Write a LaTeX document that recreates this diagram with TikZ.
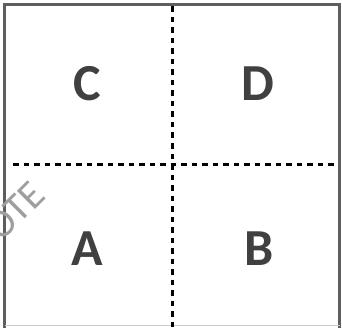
\documentclass[tikz,border=0pt]{standalone}
\usepackage{fontspec}
\setmainfont{Carlito}
\usepackage{tikz}
\usetikzlibrary{positioning}
\definecolor{lettergray}{HTML}{404040}
\definecolor{framegray}{HTML}{5E5E5E}

\begin{document}
\begin{tikzpicture}[x=1pt,y=1pt,
    frame/.style={draw=framegray,line width=3.3pt},
    quad/.style={line width=3pt,dash pattern=on 5.5pt off 5pt},
    letter/.style={font=\fontsize{52}{52}\selectfont\bfseries,text=lettergray,inner sep=0pt},
    wmark/.style={font=\fontsize{40}{40}\selectfont,text=black!38,rotate=45,inner sep=0pt}]
        \useasboundingbox (0,0) rectangle (342,327);
        \clip (0,0) rectangle (342,327);
        % outer box, bottom edge cut off
        \coordinate (sw) at (4.5,-3);
        \coordinate (nw) at (4.5,322.5);
        \coordinate (ne) at (339.5,322.5);
        \coordinate (se) at (339.5,-3);
        \coordinate (bl) at (4.5,1.2);
        \coordinate (br) at (339.5,1.2);
        \draw[frame] (sw)--(nw)--(ne)--(se);
        \draw[black!20,line width=1pt] (bl)--(br);
        % watermark
        \node[wmark] (W) at (15,116) {OTE};
        % dotted split
        \coordinate (vt) at (172,320.5);
        \coordinate (vb) at (172,0);
        \coordinate (hl) at (13,162.5);
        \coordinate (hr) at (334,162.5);
        \draw[quad] (vt)--(vb);
        \draw[quad] (hl)--(hr);
        % quadrants
        \node[letter] (C) at (87,243) {C};
        \node[letter] (D) at (258,243) {D};
        \node[letter] (A) at (87,78.5) {A};
        \node[letter] (B) at (259,78.5) {B};
    \end{tikzpicture}
\end{document}
